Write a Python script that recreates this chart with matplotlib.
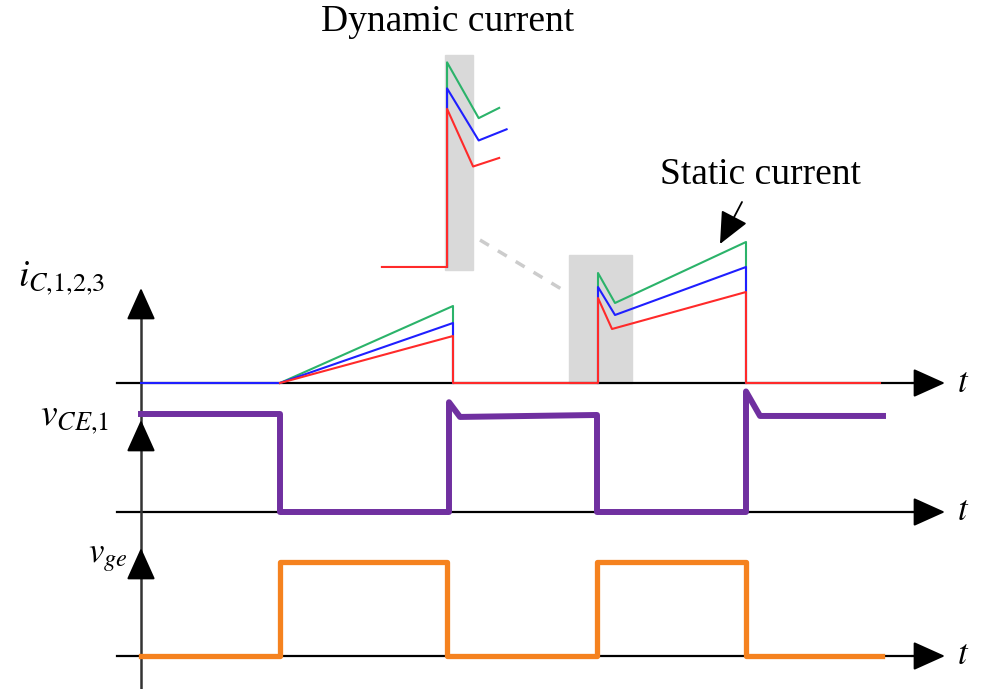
import numpy as np
import matplotlib.pyplot as plt
from matplotlib.patches import Rectangle

plt.rcParams['font.family'] = ['Liberation Serif', 'DejaVu Serif']
plt.rcParams['mathtext.fontset'] = 'stix'

nan = np.nan

# collector currents of the three parallel devices (time, current) vertices
t_ic_green = [1.39, 3.12, 3.12, nan, 4.57, 4.57, 4.74, 6.05, 6.05]
ic_green = [0, 0.77, 0, nan, 0, 1.10, 0.80, 1.41, 0]
t_ic_blue = [0, 1.39, 3.12, 3.12, nan, 4.57, 4.57, 4.74, 6.05, 6.05]
ic_blue = [0, 0, 0.60, 0, nan, 0, 0.96, 0.68, 1.16, 0]
t_ic_red = [1.39, 3.12, 3.12, 4.57, 4.57, 4.71, 6.05, 6.05, 7.39]
ic_red = [0, 0.47, 0, 0, 0.85, 0.54, 0.91, 0, 0]

# zoomed view of the turn-on transient (dynamic current)
t_zoom_green = [4.57, 4.57, 4.74, 4.85]
zoom_green = [0, 1.10, 0.80, 0.855]
t_zoom_blue = [4.57, 4.57, 4.74, 4.89]
zoom_blue = [0, 0.96, 0.68, 0.74]
t_zoom_red = [4.22, 4.57, 4.57, 4.71, 4.85]
zoom_red = [0, 0, 0.85, 0.54, 0.586]

# collector-emitter voltage of device 1 (normalised)
t_vce = [0, 1.39, 1.39, 3.08, 3.08, 3.19, 4.56, 4.56, 6.05, 6.05, 6.19, 7.42]
vce = [1, 1, 0, 0, 1.12, 0.97, 0.99, 0, 0, 1.23, 0.98, 0.98]

# gate signal (normalised)
t_vge = [0, 1.39, 1.39, 3.06, 3.06, 4.56, 4.56, 6.05, 6.05, 7.41]
vge = [0, 0, 1, 1, 0, 0, 1, 1, 0, 0]

# layout of the three traces on the sheet
vce_base, vce_scale = -1.29, 0.98
vge_base, vge_scale = -2.73, 0.94
green, blue, red = '#2bb36a', '#1f1fff', '#ff2a2a'
purple, orange = '#7030a0', '#f5821f'

fig = plt.figure(figsize=(9.92, 6.89), dpi=100)
ax = fig.add_axes([0, 0, 1, 1])
ax.set_xlim(-1.41, 8.51)
ax.set_ylim(-3.06, 3.83)
ax.set_axis_off()

arrow = dict(arrowstyle='-|>,head_length=1.0,head_width=0.45', mutation_scale=20,
             color='black', lw=1.5, shrinkA=0, shrinkB=0)

# time axes
for base in [0, vce_base, vge_base]:
    ax.plot([-0.24, 7.8], [base, base], color='black', lw=1.6, zorder=1)
    ax.annotate('', xy=(8.04, base), xytext=(7.7, base), arrowprops=arrow, zorder=1)
    ax.text(8.22, base, '$t$', fontsize=25, ha='center', va='center')

# shared vertical axis with an arrow for each trace
ax.plot([0, 0], [-3.05, 0.7], color='#333333', lw=1.8, zorder=1)
for tip in [0.95, -0.37, -1.65]:
    ax.annotate('', xy=(0, tip), xytext=(0, tip - 0.3), arrowprops=arrow, zorder=1)

# highlighted region of the turn-on transient
ax.add_patch(Rectangle((4.28, 0), 0.63, 1.28, color='#d9d9d9', zorder=0))
ax.plot([3.39, 4.22], [1.43, 0.93], color='#cccccc', lw=2.5, ls=(0, (3, 3)), zorder=0)

ax.plot(t_ic_green, ic_green, color=green, lw=1.5, zorder=3)
ax.plot(t_ic_blue, ic_blue, color=blue, lw=1.5, zorder=3)
ax.plot(t_ic_red, ic_red, color=red, lw=1.5, zorder=3)

ax.plot(t_vce, vce_base + vce_scale * np.array(vce), color=purple, lw=4.3, zorder=3)
ax.plot(t_vge, vge_base + vge_scale * np.array(vge), color=orange, lw=3.8, zorder=3)

ax.text(-1.23, 1.05, '$i_{C{,}1{,}2{,}3}$', fontsize=27, ha='left', va='center')
ax.text(-1.01, -0.36, '$v_{CE{,}1}$', fontsize=27, ha='left', va='center')
ax.text(-0.53, -1.74, '$v_{ge}$', fontsize=25, ha='left', va='center')

ax.text(3.07, 3.61, 'Dynamic current', fontsize=27, ha='center', va='center')
ax.text(6.19, 2.08, 'Static current', fontsize=27, ha='center', va='center')
ax.annotate('', xy=(5.79, 1.39), xytext=(6.01, 1.81),
            arrowprops=dict(arrowstyle='-|>,head_length=1.1,head_width=0.5', mutation_scale=18,
                            color='black', lw=1.3, shrinkA=0, shrinkB=0))

# inset: magnified turn-on transient (186 px per unit, origin at pixel 447, 267)
ins = fig.add_axes([370 / 992, (689 - 280) / 689, 150 / 992, 240 / 689])
ins.set_xlim(4.156, 4.962)
ins.set_ylim(-0.07, 1.22)
ins.set_axis_off()
ins.patch.set_alpha(0)
ins.add_patch(Rectangle((4.56, -0.016), 0.15, 1.156, color='#d9d9d9', zorder=0))
ins.plot(t_zoom_green, zoom_green, color=green, lw=1.5)
ins.plot(t_zoom_blue, zoom_blue, color=blue, lw=1.5)
ins.plot(t_zoom_red, zoom_red, color=red, lw=1.5)

fig.savefig('out.png', dpi=100)
